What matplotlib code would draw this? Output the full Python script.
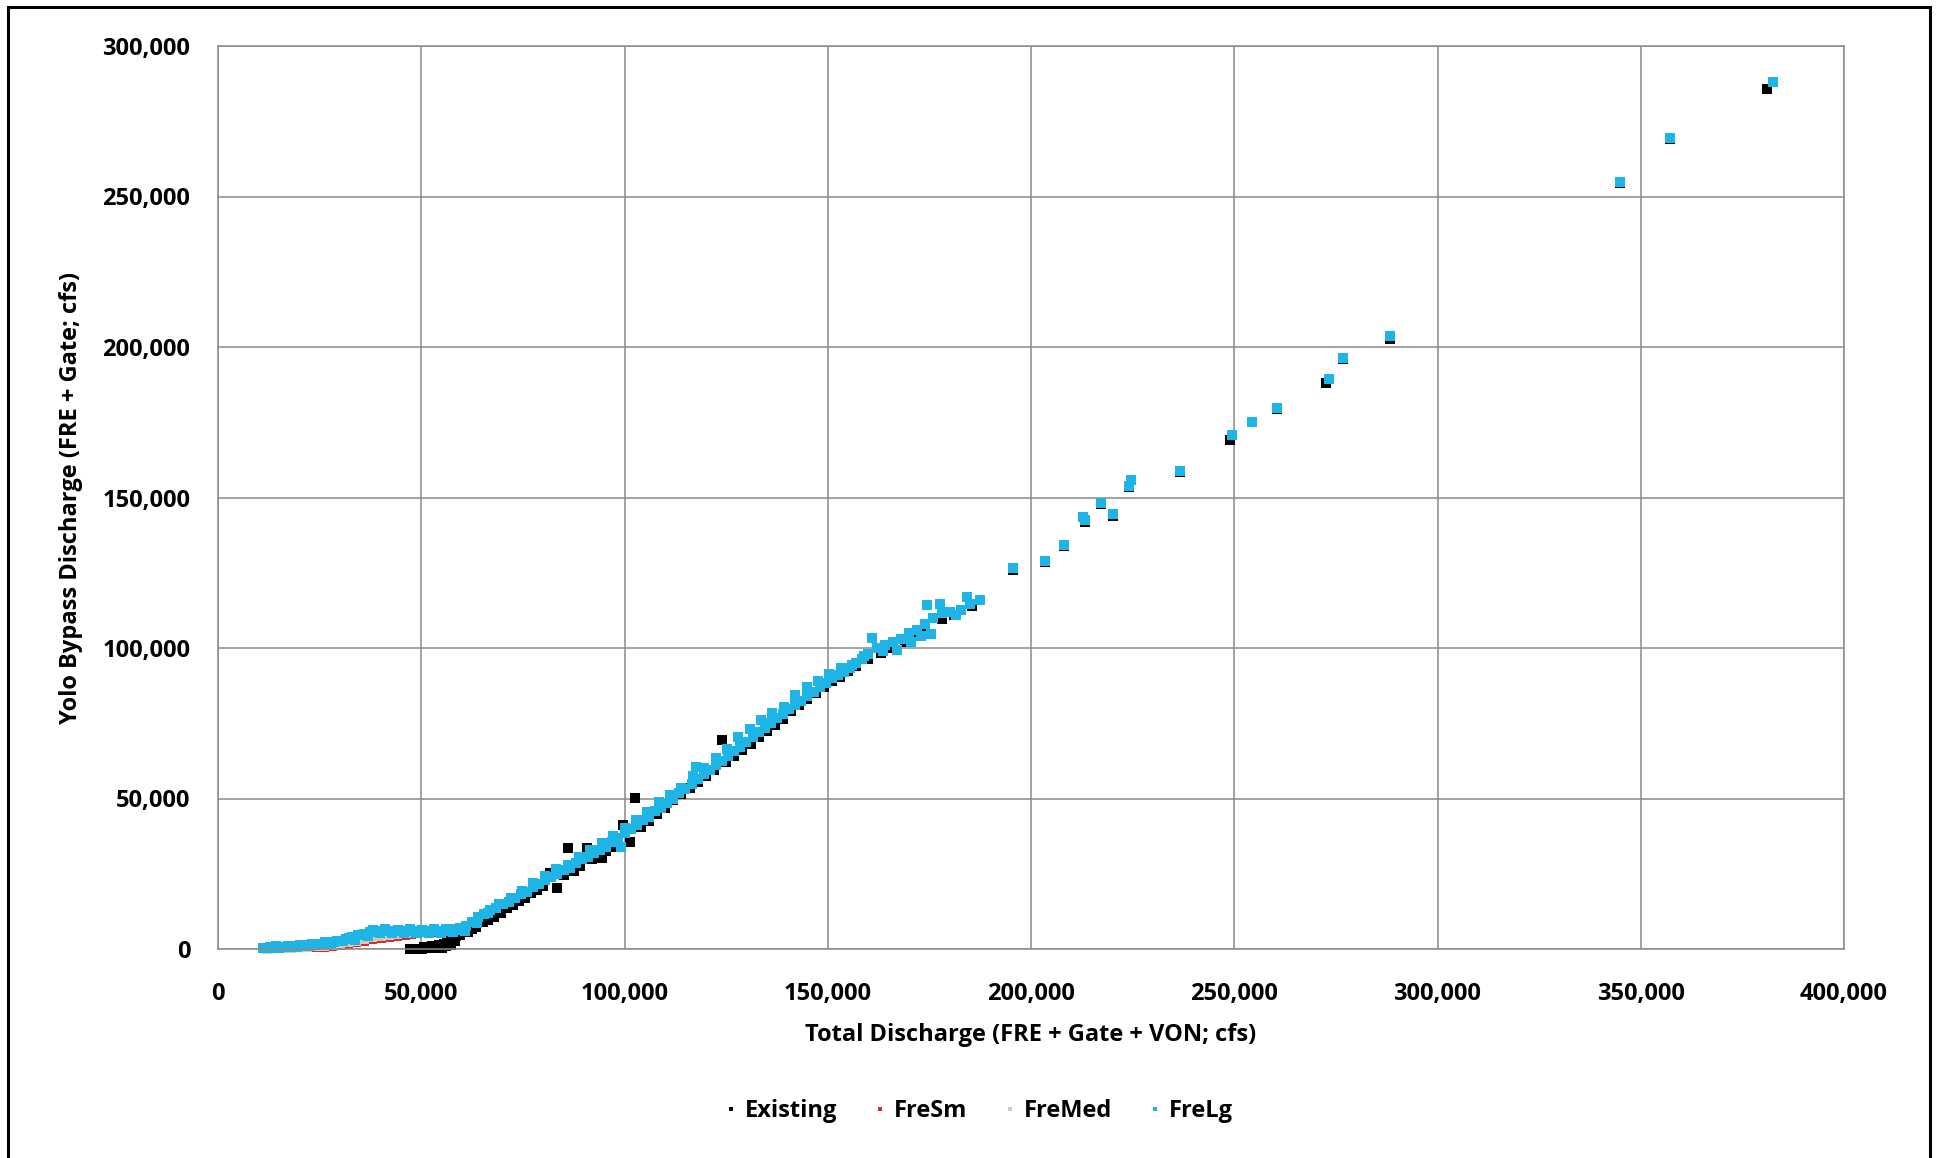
import matplotlib.pyplot as plt
from matplotlib.patches import Rectangle
from matplotlib.ticker import FuncFormatter, MultipleLocator

# --- discharge pairs, thousands of cfs: (total discharge, Yolo Bypass discharge) ---

# Existing condition
existing_low_x = [47.2, 48.2, 49.2, 50.2, 51.2, 52.2, 53.2, 54.0, 54.8, 55.6,
                  56.3, 57.0, 57.8, 58.6, 59.5, 60.5, 61.5, 62.5, 63.5, 65.2,
                  50.7, 52.7, 54.4, 55.2, 56.0, 56.8, 57.4, 58.2]
existing_low_y = [0.0, 0.0, 0.1, 0.1, 0.2, 0.3, 0.4, 0.7, 1.0, 1.5,
                  2.0, 2.6, 3.4, 4.2, 4.6, 5.5, 5.8, 6.5, 7.2, 9.0,
                  0.6, 0.9, 1.3, 0.4, 1.1, 1.8, 1.4, 2.5]

existing_band_x = [66.5, 68.0, 69.5, 71.0, 72.5, 74.0, 75.5, 77.0, 78.5, 80.0,
                   81.7, 83.3, 85.0, 86.2, 87.5, 89.0, 90.7, 92.0, 94.4, 95.5,
                   97.0, 99.7, 101.4, 102.6, 104.0, 106.0, 108.0, 110.0, 112.0, 114.0,
                   116.0, 118.0, 120.0, 122.0, 123.9, 125.0, 127.0, 129.0, 131.0, 133.0,
                   135.0, 137.0, 139.0, 141.0, 143.0, 145.0, 147.0, 149.0, 151.0, 153.0,
                   155.0, 157.0, 160.0, 163.0, 166.0, 169.0, 172.0, 174.0, 176.6, 178.0,
                   181.0, 185.6]
existing_band_y = [9.5, 10.5, 11.8, 13.5, 14.5, 16.0, 17.0, 18.5, 19.5, 21.0,
                   25.2, 20.3, 24.5, 33.7, 26.0, 27.5, 33.7, 29.8, 30.1, 32.5,
                   34.0, 41.2, 35.6, 50.1, 40.5, 42.5, 45.0, 47.0, 49.5, 51.5,
                   53.5, 55.5, 57.5, 59.5, 69.4, 62.0, 64.0, 66.0, 68.0, 70.5,
                   72.5, 74.5, 76.5, 79.0, 81.0, 83.0, 85.0, 87.0, 89.0, 90.5,
                   92.5, 94.0, 96.5, 98.5, 100.0, 102.0, 104.5, 106.5, 110.0, 109.5,
                   111.0, 113.8]

existing_high_x = [195.5, 203.5, 208.2, 213.4, 217.1, 220.2, 224.0, 236.7, 248.9, 254.3,
                   260.4, 272.5, 276.8, 288.2, 344.9, 357.2, 381.0]
existing_high_y = [126.0, 128.5, 133.8, 142.0, 148.0, 144.0, 153.5, 158.5, 169.1, 175.0,
                   179.5, 187.9, 196.0, 202.7, 254.5, 269.0, 285.6]

# Low-flow part of each alternative
fresm_low_x = [12.0, 14.0, 16.0, 18.0, 20.0, 22.0, 24.0, 26.0, 28.0, 30.0,
               32.0, 34.0, 36.0, 38.0, 40.0, 42.0, 44.0, 46.0, 47.5, 49.0,
               51.0, 53.0, 55.0, 57.0]
fresm_low_y = [0.1, 0.2, 0.3, 0.4, 0.5, 0.6, 0.7, 0.8, 1.0, 1.3,
               1.7, 2.2, 2.7, 3.2, 3.6, 4.0, 4.4, 4.8, 5.1, 5.4,
               5.6, 5.8, 5.9, 6.1]

fremed_low_x = [12.0, 14.0, 16.0, 18.0, 20.0, 22.0, 24.0, 26.0, 28.0, 30.0,
                32.0, 34.0, 36.0, 38.0, 40.0, 42.0, 44.0, 46.0, 48.0, 50.0,
                52.0, 54.0, 56.0]
fremed_low_y = [0.1, 0.2, 0.3, 0.4, 0.6, 0.7, 0.9, 1.0, 1.3, 1.7,
                2.2, 2.7, 3.3, 3.9, 4.4, 4.8, 5.1, 5.4, 5.6, 5.8,
                5.9, 6.0, 6.1]

frelg_low_x = [11.0, 12.0, 13.5, 15.0, 16.5, 18.0, 19.5, 21.0, 22.5, 24.0,
               25.5, 27.0, 28.5, 30.0, 31.5, 33.0, 34.5, 36.0, 37.5, 39.0,
               40.5, 42.0, 43.5, 45.0, 46.5, 48.0, 49.5, 51.0, 52.5, 54.0,
               55.5, 57.0, 58.5,
               14.2, 17.2, 20.2, 23.2, 26.2, 29.2, 32.2, 35.2, 38.2, 41.2,
               44.2, 47.2, 50.2, 53.2, 56.2,
               12.8, 15.8, 18.8, 21.8, 24.8, 27.8, 30.8, 33.8, 36.8, 39.8,
               42.8, 45.8, 48.8, 51.8, 54.8, 57.8]
frelg_low_y = [0.2, 0.3, 0.35, 0.45, 0.55, 0.65, 0.8, 0.95, 1.1, 1.3,
               1.5, 1.8, 2.2, 2.7, 3.3, 3.9, 4.5, 5.1, 5.5, 5.8,
               5.9, 5.95, 5.9, 5.85, 5.9, 5.95, 5.9, 5.8, 5.85, 5.9,
               5.95, 6.05, 6.3,
               0.9, 1.1, 1.4, 1.7, 2.2, 2.8, 3.6, 4.6, 6.2, 6.5,
               6.4, 6.5, 6.4, 6.5, 6.6,
               0.6, 0.8, 1.0, 1.3, 1.6, 2.0, 2.6, 3.0, 4.2, 5.2,
               5.4, 5.3, 5.4, 5.3, 5.4, 5.6]

# High-flow part shared by the three alternatives
alt_band_x = [58.0, 59.5, 61.0, 62.5, 64.0, 65.5, 67.0, 68.5, 70.0, 71.5,
              73.0, 74.5, 76.0, 77.5, 79.0, 80.5, 82.0, 83.5, 85.0, 86.5,
              88.0, 89.5, 91.0, 92.5, 94.0, 95.5, 97.0, 98.5, 100.0, 101.5,
              103.0, 104.5, 106.0, 107.5, 109.0, 110.5, 112.0, 113.5, 115.0, 116.5,
              118.0, 119.5, 121.0, 122.5, 124.0, 125.5, 127.0, 128.5, 130.0, 131.5,
              133.0, 134.5, 136.0, 137.5, 139.0, 140.5, 142.0, 143.5, 145.0, 146.5,
              148.0, 149.5, 151.0, 152.5, 154.0, 155.5, 157.0, 158.5, 160.0, 162.0,
              164.0, 166.0, 168.0, 170.0, 172.0, 174.0, 176.0, 178.0, 180.0, 182.8,
              185.0, 187.5,
              60.8, 63.6, 66.4, 69.2, 72.0, 74.8, 77.6, 80.4, 83.2, 86.0,
              88.8, 91.6, 94.4, 97.2, 99.2, 100.0, 102.8, 105.6, 108.4, 111.2,
              114.0, 116.8, 117.7, 119.6, 122.4, 125.2, 128.0, 130.8, 133.6, 136.4,
              139.2, 142.0, 144.8, 147.6, 150.4, 153.2, 156.0, 158.8, 161.0, 163.5,
              167.0, 170.5, 173.0, 174.3, 175.5, 177.5, 179.4, 181.5, 184.2]
alt_band_y = [6.5, 7.0, 7.8, 9.0, 10.5, 11.5, 12.8, 13.5, 14.8, 15.5,
              17.0, 18.2, 19.0, 20.5, 21.5, 22.8, 24.0, 24.8, 26.2, 27.0,
              28.5, 29.8, 30.5, 32.0, 33.0, 34.0, 35.5, 36.8, 38.5, 40.0,
              41.2, 42.8, 44.0, 45.8, 47.0, 48.5, 50.0, 51.8, 53.0, 54.8,
              56.5, 58.0, 59.5, 61.0, 62.5, 64.0, 65.8, 67.0, 68.8, 70.5,
              72.0, 73.5, 75.0, 76.8, 78.2, 79.8, 81.0, 82.5, 84.0, 85.5,
              87.0, 88.5, 90.0, 91.0, 92.0, 93.5, 95.0, 96.5, 98.0, 100.0,
              101.0, 102.0, 103.0, 105.0, 106.0, 108.0, 110.0, 111.5, 112.0, 112.6,
              114.5, 116.0,
              6.0, 8.6, 11.8, 14.8, 16.8, 19.2, 21.8, 24.2, 26.5, 28.0,
              30.6, 33.0, 35.2, 37.6, 34.0, 40.2, 43.0, 45.5, 48.8, 51.0,
              53.5, 57.5, 60.6, 60.0, 63.5, 66.5, 70.5, 73.0, 76.0, 78.5,
              80.5, 84.5, 87.0, 89.0, 91.5, 93.5, 94.5, 97.5, 103.3, 99.0,
              99.5, 102.0, 104.0, 114.3, 104.5, 114.5, 112.0, 111.0, 117.0]

alt_high_x = [195.5, 203.5, 208.2, 212.8, 213.4, 217.1, 220.2, 224.0, 224.7, 236.7,
              249.5, 254.3, 260.4, 273.2, 276.8, 288.2, 344.9, 357.2, 382.6]
alt_high_y = [126.5, 128.8, 134.2, 143.5, 142.5, 148.3, 144.5, 153.8, 155.8, 158.8,
              170.8, 175.2, 179.9, 189.5, 196.4, 203.6, 254.9, 269.3, 288.1]

series_names = ["Existing", "FreSm", "FreMed", "FreLg"]
series_colors = ["#000000", "#E3262F", "#CDCDB4", "#1EB4E6"]

series_x = [
    existing_low_x + existing_band_x + existing_high_x,
    fresm_low_x + alt_band_x + alt_high_x,
    fremed_low_x + alt_band_x + alt_high_x,
    frelg_low_x + alt_band_x + alt_high_x,
]
series_y = [
    existing_low_y + existing_band_y + existing_high_y,
    fresm_low_y + alt_band_y + alt_high_y,
    fremed_low_y + alt_band_y + alt_high_y,
    frelg_low_y + alt_band_y + alt_high_y,
]

plt.rcParams["font.family"] = ["Open Sans", "DejaVu Sans"]
plt.rcParams["font.weight"] = "bold"

fig = plt.figure(figsize=(19.38, 11.58), dpi=100)
ax = fig.add_axes([218 / 1938, 1 - 949 / 1158, 1626 / 1938, 903 / 1158])

for name, color, xs, ys in zip(series_names, series_colors, series_x, series_y):
    ax.plot(
        [v * 1000 for v in xs],
        [v * 1000 for v in ys],
        linestyle="none",
        marker="s",
        markersize=7.0,
        color=color,
        markeredgewidth=0,
        clip_on=False,
        label=name
    )

ax.set_xlim(0, 400000)
ax.set_ylim(0, 300000)
ax.xaxis.set_major_locator(MultipleLocator(50000))
ax.yaxis.set_major_locator(MultipleLocator(50000))

comma = FuncFormatter(lambda v, pos: f"{int(v):,}")
ax.xaxis.set_major_formatter(comma)
ax.yaxis.set_major_formatter(comma)

ax.grid(True, color="#8A8A8A", linewidth=1.1)
ax.set_axisbelow(True)
for spine in ax.spines.values():
    spine.set_color("#8A8A8A")
    spine.set_linewidth(1.1)

ax.tick_params(length=0, labelsize=17, colors="black")
ax.tick_params(axis="x", pad=24)
ax.tick_params(axis="y", pad=20)

ax.set_xlabel("Total Discharge (FRE + Gate + VON; cfs)", fontsize=17, fontweight="bold")
ax.set_ylabel("Yolo Bypass Discharge (FRE + Gate; cfs)", fontsize=17, fontweight="bold")
ax.xaxis.set_label_coords(0.5, -0.0815)
ax.yaxis.set_label_coords(-0.083, 0.5)

fig.legend(
    loc="center",
    bbox_to_anchor=(976 / 1938, 1 - 1111 / 1158),
    ncol=4,
    frameon=False,
    fontsize=17,
    markerscale=0.5,
    handletextpad=0.1,
    columnspacing=1.3,
    handlelength=1.0
)

# black frame around the whole chart
fig.patches.append(Rectangle(
    (8 / 1938, -0.02), 1922 / 1938, 1.02 - 7 / 1158,
    transform=fig.transFigure, fill=False,
    edgecolor="black", linewidth=2.2
))

fig.savefig("out.png", dpi=100)
